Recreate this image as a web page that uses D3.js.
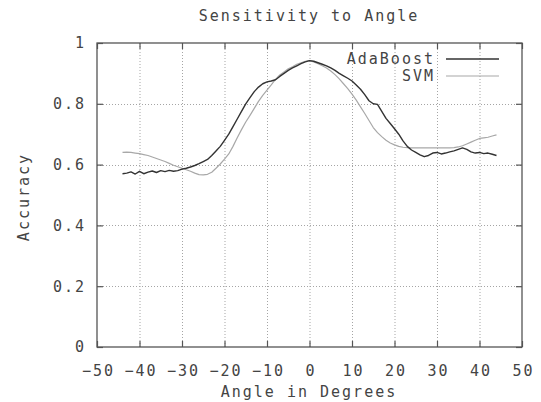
<!DOCTYPE html>
<html>
<head>
<meta charset="utf-8">
<script src="https://cdn.jsdelivr.net/npm/d3@7"></script>
<style>
    body { margin: 0; background: #fff; }
    svg { display: block; }
    text { font-family: "DejaVu Sans Mono", "Liberation Mono", monospace; fill: #444; }
</style>
</head>
<body>
<svg id="chart" width="541" height="402"></svg>
<script>
// --- data ---
const angles = [
    -44, -43, -42, -41, -40, -39, -38, -37, -36, -35, -34, -33, -32, -31, -30,
    -29, -28, -27, -26, -25, -24, -23, -22, -21, -20, -19, -18, -17, -16, -15,
    -14, -13, -12, -11, -10, -9, -8, -7, -6, -5, -4, -3, -2, -1, 0,
    1, 2, 3, 4, 5, 6, 7, 8, 9, 10, 11, 12, 13, 14, 15,
    16, 17, 18, 19, 20, 21, 22, 23, 24, 25, 26, 27, 28, 29, 30,
    31, 32, 33, 34, 35, 36, 37, 38, 39, 40, 41, 42, 43, 44
];
const adaboost = [
    0.570, 0.572, 0.576, 0.569, 0.578, 0.570, 0.575, 0.579, 0.574, 0.580, 0.577, 0.581, 0.578, 0.580, 0.585,
    0.588, 0.592, 0.597, 0.603, 0.610, 0.617, 0.630, 0.645, 0.660, 0.680, 0.700, 0.725, 0.750, 0.775, 0.800,
    0.820, 0.840, 0.855, 0.866, 0.872, 0.875, 0.879, 0.890, 0.900, 0.910, 0.918, 0.925, 0.932, 0.938, 0.942,
    0.940, 0.935, 0.930, 0.925, 0.918, 0.910, 0.900, 0.892, 0.884, 0.875, 0.862, 0.848, 0.830, 0.810, 0.800,
    0.798, 0.775, 0.752, 0.735, 0.718, 0.700, 0.678, 0.660, 0.648, 0.640, 0.632, 0.626, 0.630, 0.638, 0.640,
    0.635, 0.638, 0.642, 0.645, 0.650, 0.655, 0.650, 0.642, 0.638, 0.640, 0.636, 0.638, 0.634, 0.630
];
const svm = [
    0.640, 0.641, 0.640, 0.638, 0.636, 0.633, 0.630, 0.625, 0.620, 0.615, 0.610, 0.604, 0.598, 0.593, 0.588,
    0.583, 0.578, 0.572, 0.567, 0.566, 0.568, 0.575, 0.588, 0.602, 0.618, 0.635, 0.660, 0.688, 0.715, 0.740,
    0.762, 0.785, 0.808, 0.828, 0.845, 0.862, 0.880, 0.895, 0.905, 0.915, 0.922, 0.930, 0.935, 0.940, 0.942,
    0.938, 0.932, 0.925, 0.918, 0.908, 0.896, 0.882, 0.866, 0.850, 0.832, 0.812, 0.790, 0.768, 0.745, 0.722,
    0.705, 0.692, 0.680, 0.671, 0.665, 0.660, 0.657, 0.656, 0.655, 0.655, 0.655, 0.655, 0.655, 0.655, 0.655,
    0.655, 0.655, 0.655, 0.656, 0.658, 0.662, 0.668, 0.674, 0.680, 0.686, 0.688, 0.690, 0.694, 0.698
];
const xTicks = [-50, -40, -30, -20, -10, 0, 10, 20, 30, 40, 50];
const yTicks = [0, 0.2, 0.4, 0.6, 0.8, 1];
const seriesNames = ["AdaBoost", "SVM"];

const svg = d3.select("#chart");
const margin = { top: 43, right: 19, bottom: 55, left: 97 };
const width = 541 - margin.left - margin.right;
const height = 402 - margin.top - margin.bottom;
const fontSize = "15px";
const spacing = "2px";

const g = svg.append("g").attr("transform", `translate(${margin.left},${margin.top})`);

const x = d3.scaleLinear().domain([-50, 50]).range([0, width]);
const y = d3.scaleLinear().domain([0, 1]).range([height, 0]);

const yFmt = (d) => (d === 0 || d === 1 ? String(d) : d.toFixed(1));

// grid (dotted, inner lines only)
g.append("g")
    .selectAll("line")
    .data(xTicks.slice(1, -1))
    .join("line")
    .attr("x1", (d) => x(d) + 0.5).attr("x2", (d) => x(d) + 0.5)
    .attr("y1", 0).attr("y2", height)
    .attr("stroke", "#a5a5a5")
    .attr("stroke-dasharray", "1,2");
g.append("g")
    .selectAll("line")
    .data(yTicks.slice(1, -1))
    .join("line")
    .attr("x1", 0).attr("x2", width)
    .attr("y1", (d) => Math.round(y(d)) + 0.5).attr("y2", (d) => Math.round(y(d)) + 0.5)
    .attr("stroke", "#a5a5a5")
    .attr("stroke-dasharray", "1,2");

// axes, ticks inward on all four sides
const styleAxis = (sel) => {
    sel.selectAll(".domain").remove();
    sel.selectAll(".tick line").attr("stroke", "#555").attr("stroke-width", 1.2);
    sel.selectAll("text")
        .style("font-size", fontSize)
        .style("letter-spacing", spacing)
        .attr("fill", "#444");
};

g.append("g")
    .attr("transform", `translate(0,${height})`)
    .call(d3.axisBottom(x).tickValues(xTicks).tickSize(-6).tickPadding(18).tickFormat(d3.format("d")))
    .call(styleAxis)
    .selectAll("text").attr("dx", "1px");

g.append("g")
    .call(d3.axisTop(x).tickValues(xTicks).tickSize(-6).tickFormat(""))
    .call(styleAxis);

g.append("g")
    .call(d3.axisLeft(y).tickValues(yTicks).tickSize(-6).tickPadding(13).tickFormat(yFmt))
    .call(styleAxis)
    .selectAll("text").attr("dx", "2px");

g.append("g")
    .attr("transform", `translate(${width},0)`)
    .call(d3.axisRight(y).tickValues(yTicks).tickSize(-6).tickFormat(""))
    .call(styleAxis);

// border
g.append("rect")
    .attr("x", 0).attr("y", 0)
    .attr("width", width).attr("height", height)
    .attr("fill", "none")
    .attr("stroke", "#555")
    .attr("stroke-width", 1.3);

// series
const line = d3.line()
    .x((d) => x(d[0]))
    .y((d) => y(d[1]));

const series = [
    { name: seriesNames[0], values: adaboost, color: "#333", w: 1.4 },
    { name: seriesNames[1], values: svm, color: "#a8a8a8", w: 1.2 },
];

series.slice().reverse().forEach((s) => {
    g.append("path")
        .datum(angles.map((a, i) => [a, s.values[i]]))
        .attr("fill", "none")
        .attr("stroke", s.color)
        .attr("stroke-width", s.w)
        .attr("stroke-linejoin", "round")
        .attr("d", line);
});

// legend
series.forEach((s, i) => {
    const ly = 16 + i * 17;
    g.append("text")
        .attr("x", 338)
        .attr("y", ly + 5)
        .attr("text-anchor", "end")
        .style("font-size", fontSize)
        .style("letter-spacing", spacing)
        .text(s.name);
    g.append("line")
        .attr("x1", 349).attr("x2", 402)
        .attr("y1", ly).attr("y2", ly)
        .attr("stroke", s.color)
        .attr("stroke-width", s.w);
});

// titles
svg.append("text")
    .attr("x", 309)
    .attr("y", 21)
    .attr("text-anchor", "middle")
    .style("font-size", fontSize)
    .style("letter-spacing", spacing)
    .text("Sensitivity to Angle");

svg.append("text")
    .attr("x", 309)
    .attr("y", 397)
    .attr("text-anchor", "middle")
    .style("font-size", fontSize)
    .style("letter-spacing", spacing)
    .text("Angle in Degrees");

svg.append("text")
    .attr("transform", "translate(29,197) rotate(-90)")
    .attr("text-anchor", "middle")
    .style("font-size", fontSize)
    .style("letter-spacing", spacing)
    .text("Accuracy");
</script>
</body>
</html>
